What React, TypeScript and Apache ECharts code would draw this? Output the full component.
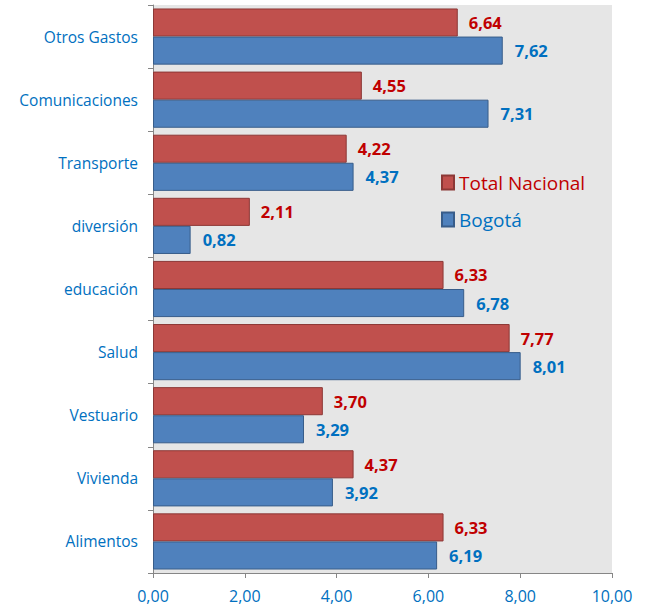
import React, { useEffect, useRef } from "react";
import * as echarts from "echarts";

const categories = ["Alimentos", "Vivienda", "Vestuario", "Salud", "educación", "diversión", "Transporte", "Comunicaciones", "Otros Gastos"];
const totalNacional = [6.33, 4.37, 3.70, 7.77, 6.33, 2.11, 4.22, 4.55, 6.64];
const bogota = [6.19, 3.92, 3.29, 8.01, 6.78, 0.82, 4.37, 7.31, 7.62];
const seriesNames = ["Total Nacional", "Bogotá"];

const fmt = (v: number) => v.toFixed(2).replace(".", ",");

export default function App() {
  const ref = useRef<HTMLDivElement>(null);
  useEffect(() => {
    const chart = echarts.init(ref.current!, undefined, { renderer: "svg" });
    chart.setOption({
      animation: false,
      grid: { left: 153, right: 35, top: 5, bottom: 34, show: true, backgroundColor: "#e6e6e6", borderWidth: 0 },
      legend: {
        orient: "vertical",
        left: 436,
        top: 168,
        icon: "rect",
        itemWidth: 12,
        itemHeight: 14,
        itemGap: 18,
        textStyle: { fontSize: 19, fontFamily: "Open Sans" },
        data: [
          { name: seriesNames[0], textStyle: { color: "#c00000" } },
          { name: seriesNames[1], textStyle: { color: "#0070c0" } },
        ],
      },
      xAxis: {
        type: "value",
        min: 0,
        max: 10,
        interval: 2,
        splitLine: { show: false },
        axisLine: { show: true, lineStyle: { color: "#868686" } },
        axisTick: { show: true, length: 5, lineStyle: { color: "#868686" } },
        axisLabel: { color: "#0070c0", fontSize: 16, fontFamily: "Open Sans", formatter: (v: number) => fmt(v), margin: 15 },
      },
      yAxis: {
        type: "category",
        data: categories,
        axisLine: { show: true, lineStyle: { color: "#868686" } },
        axisTick: { show: true, length: 5, lineStyle: { color: "#868686" } },
        axisLabel: { color: "#0070c0", fontSize: 15.5, fontFamily: "Open Sans", margin: 15 },
      },
      series: [
        {
          name: seriesNames[0],
          type: "bar",
          data: totalNacional,
          barGap: "0%",
          barCategoryGap: "11%",
          itemStyle: { color: "#c0504d", borderColor: "#8c3836", borderWidth: 1 },
          label: { show: true, position: "right", distance: 11, color: "#c00000", fontWeight: "bold", fontSize: 16.5, fontFamily: "Open Sans", formatter: (p: any) => fmt(p.value) },
        },
        {
          name: seriesNames[1],
          type: "bar",
          data: bogota,
          barGap: "0%",
          barCategoryGap: "11%",
          itemStyle: { color: "#4f81bd", borderColor: "#385d8a", borderWidth: 1 },
          label: { show: true, position: "right", distance: 12, color: "#0070c0", fontWeight: "bold", fontSize: 16.5, fontFamily: "Open Sans", formatter: (p: any) => fmt(p.value) },
        },
      ],
    });
    return () => chart.dispose();
  }, []);
  return <div ref={ref} style={{ width: 647, height: 607, position: "absolute", left: 0, top: 0 }} />;
}
